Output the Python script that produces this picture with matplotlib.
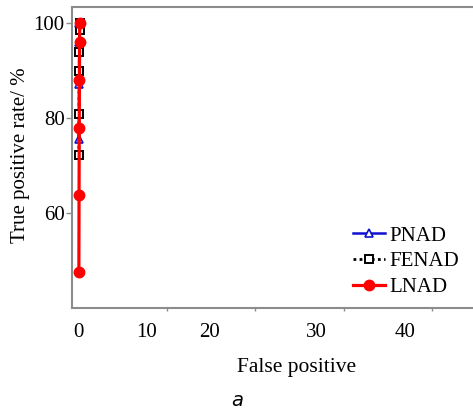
import matplotlib
matplotlib.use("Agg")
import matplotlib.pyplot as plt
from matplotlib.ticker import FixedLocator, NullFormatter

# ROC points (false positive, true positive rate %)
pnad_fp = [0.02, 0.04, 0.06, 0.08]
pnad_tpr = [75.6, 87.2, 96.0, 100.0]

fenad_fp = [0.02, 0.04, 0.06, 0.08, 0.10, 0.12]
fenad_tpr = [72.2, 80.8, 89.8, 93.9, 98.5, 100.0]

lnad_fp = [0.02, 0.04, 0.06, 0.08, 0.10, 0.12]
lnad_tpr = [47.6, 63.8, 77.8, 87.9, 96.0, 100.0]

x_tick_values = [0, 10, 20, 30, 40]
# the original's tick labels sit off their tick marks
x_label_pos = [0, 7.73, 14.8, 26.9, 37.0]
x_tick_labels = ["0", "10", "20", "30", "40"]
y_ticks = [60, 80, 100]

SERIF = "Liberation Serif"
SPINE = "#8c8c8c"

fig = plt.figure(figsize=(4.73, 4.11), dpi=100)
W, H = 473, 411
left, right, bottom, top = 72.3, 522, 307.7, 7.5
ax = fig.add_axes([left / W, 1 - bottom / H, (right - left) / W, (bottom - top) / H])

ax.plot(pnad_fp, pnad_tpr, color="#1010d0", lw=1.8, marker="^", ms=6,
        mfc="white", mec="#1010d0", mew=1.2, label="PNAD", zorder=2)
ax.plot(fenad_fp, fenad_tpr, color="black", lw=2.0, ls=(0, (1, 1.2)), marker="s", ms=6,
        mfc="white", mec="black", mew=1.4, label="FENAD", zorder=3)
ax.plot(lnad_fp, lnad_tpr, color="red", lw=2.3, marker="o", ms=7.5,
        mfc="red", mec="red", label="LNAD", zorder=4)

ax.set_xlim((left - 78.7) / 8.83, (right - 78.7) / 8.83)
ax.set_ylim(40, 100 + (22.7 - top) / 4.75)

ax.xaxis.set_major_locator(FixedLocator(x_label_pos))
ax.set_xticklabels(x_tick_labels)
ax.xaxis.set_minor_locator(FixedLocator(x_tick_values))
ax.xaxis.set_minor_formatter(NullFormatter())
ax.tick_params(axis="x", which="major", length=0, pad=11)
ax.tick_params(axis="x", which="minor", length=2.5, width=1.0, color=SPINE)

ax.set_yticks(y_ticks)
ax.tick_params(axis="y", length=4, width=1.0, color=SPINE, pad=1.5)

for lab in ax.get_xticklabels() + ax.get_yticklabels():
    lab.set_fontfamily(SERIF)
    lab.set_fontsize(15)

for s in ax.spines.values():
    s.set_color(SPINE)
    s.set_linewidth(1.5)

ax.set_xlabel("False positive", fontfamily=SERIF, fontsize=15.5)
ax.xaxis.set_label_coords((297 - left) / (right - left), -(372 - bottom) / (bottom - top))
ax.xaxis.label.set_va("baseline")
ax.set_ylabel("True positive rate/ %", fontfamily=SERIF, fontsize=15)
ax.yaxis.set_label_coords(-(left - 30) / (right - left), (bottom - 155.5) / (bottom - top))

fig.legend(loc="upper left", bbox_to_anchor=(352.7 / W, 1 - 226 / H),
           frameon=False, borderpad=0, borderaxespad=0, handlelength=1.55,
           handletextpad=0.2, labelspacing=0.3,
           prop={"family": SERIF, "size": 15})

fig.text(237 / W, 1 - 400 / H, "a", ha="center", va="center",
         fontsize=14, style="italic", family="DejaVu Sans")

fig.savefig("out.png", dpi=100)
